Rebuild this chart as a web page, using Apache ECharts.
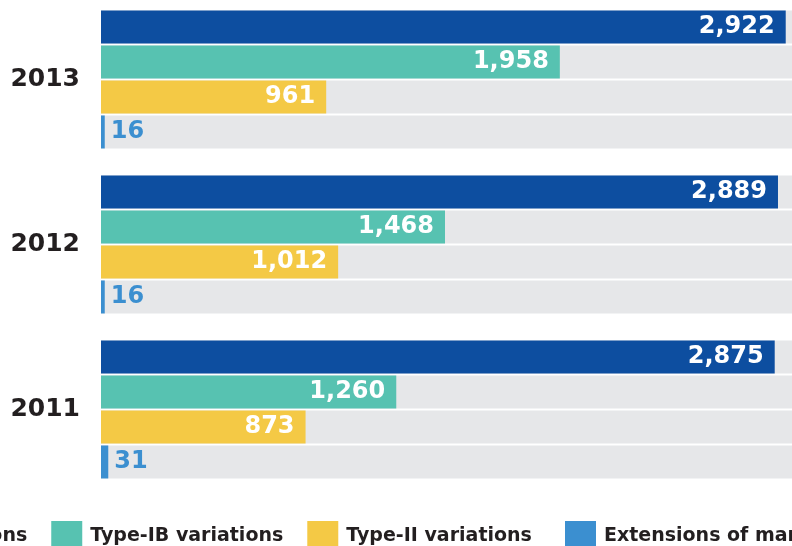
<!DOCTYPE html>
<html>
<head>
<meta charset="utf-8">
<script src="https://cdn.jsdelivr.net/npm/echarts@6/dist/echarts.min.js"></script>
<style>
  html, body { margin: 0; padding: 0; background: #ffffff; }
  #chart { width: 792px; height: 546px; }
</style>
</head>
<body>
<div id="chart"></div>
<script>
// Procedure counts per year, grouped by procedure type
var years = ['2013', '2012', '2011'];
var seriesNames = [
  'Type-IA variations',
  'Type-IB variations',
  'Type-II variations',
  'Extensions of marketing authorisations'
];
var typeIA = [2922, 2889, 2875];
var typeIB = [1958, 1468, 1260];
var typeII = [961, 1012, 873];
var extensions = [16, 16, 31];

var colors = ['#0d4ea0', '#57c2b1', '#f4c945', '#3b8fd0'];
var FONT = 'DejaVu Sans';

function fmt(v) {
  return String(v).replace(/\B(?=(\d{3})+(?!\d))/g, ',');
}

function makeSeries(name, data, color, outside) {
  return {
    name: name,
    type: 'bar',
    data: data,
    barWidth: 33,
    barGap: '6%',
    itemStyle: { color: color },
    showBackground: true,
    backgroundStyle: { color: '#e6e7e9' },
    label: {
      show: true,
      position: outside ? 'right' : 'insideRight',
      distance: outside ? 6 : 11,
      color: outside ? color : '#ffffff',
      fontFamily: FONT,
      fontWeight: 'bold',
      fontSize: 24,
      formatter: function (p) { return fmt(p.value); }
    }
  };
}

function makeLegend(left, names) {
  return {
    left: left,
    top: 521,
    width: 1400,
    padding: 0,
    itemWidth: 31,
    itemHeight: 31,
    itemGap: 24,
    icon: 'rect',
    textStyle: {
      color: '#231f20',
      fontFamily: FONT,
      fontWeight: 'bold',
      fontSize: 19,
      padding: [0, 0, 0, 3]
    },
    data: names
  };
}

var chart = echarts.init(document.getElementById('chart'), null, { renderer: 'canvas' });
chart.setOption({
  animation: false,
  backgroundColor: '#ffffff',
  grid: {
    left: 101,
    top: -3,
    width: 703,
    height: 495,
    outerBoundsMode: 'none'
  },
  xAxis: {
    type: 'value',
    min: 0,
    max: 3000,
    show: false
  },
  yAxis: {
    type: 'category',
    data: years,
    inverse: true,
    axisLine: { show: false },
    axisTick: { show: false },
    axisLabel: {
      margin: 21,
      color: '#231f20',
      fontFamily: FONT,
      fontWeight: 'bold',
      fontSize: 25
    }
  },
  legend: [
    makeLegend(-205, seriesNames.slice(0, 3)),
    makeLegend(565, seriesNames.slice(3))
  ],
  series: [
    makeSeries(seriesNames[0], typeIA, colors[0], false),
    makeSeries(seriesNames[1], typeIB, colors[1], false),
    makeSeries(seriesNames[2], typeII, colors[2], false),
    makeSeries(seriesNames[3], extensions, colors[3], true)
  ]
});
</script>
</body>
</html>
